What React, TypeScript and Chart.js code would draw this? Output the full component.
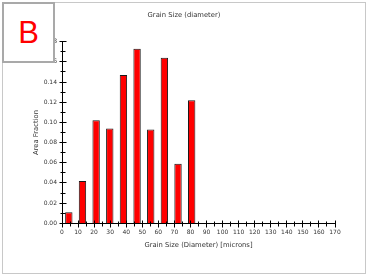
import { useEffect, useRef } from "react";
import { Chart, registerables } from "chart.js";

Chart.register(...registerables);

// ---- data ----
const binCenters = [4.25, 12.75, 21.25, 29.75, 38.25, 46.75, 55.25, 63.75, 72.25, 80.75];
const areaFraction = [0.011, 0.042, 0.102, 0.094, 0.147, 0.173, 0.093, 0.164, 0.059, 0.122];
const xAxisMin = 0;
const xAxisMax = 170;
const xMajorStep = 10;
const xMinorStep = 5;
const yAxisMin = 0;
const yAxisMax = 0.18;
const yMajorStep = 0.02;
const yMinorStep = 0.01;
const chartTitle = "Grain Size (diameter)";
const xTitle = "Grain Size (Diameter) [microns]";
const yTitle = "Area Fraction";
const panelLabel = "B";

const FONT = "'DejaVu Sans', 'Liberation Sans', sans-serif";
const TEXT = "#333333";

const crossTicks = {
  id: "crossTicks",
  afterDraw(chart: any) {
    const { ctx, scales } = chart;
    const x = scales.x;
    const y = scales.y;
    const al = (p: number) => Math.round(p - 0.5) + 0.5;
    ctx.save();
    ctx.strokeStyle = "#000000";
    ctx.lineWidth = 1;
    const ax = al(x.left);
    const ay = al(y.bottom);
    const ny = Math.round((yAxisMax - yAxisMin) / yMinorStep);
    const yRatio = Math.round(yMajorStep / yMinorStep);
    for (let i = 0; i <= ny; i++) {
      const v = yAxisMin + i * yMinorStep;
      const py = al(y.getPixelForValue(v));
      const half = i % yRatio === 0 ? 3 : 2;
      ctx.beginPath();
      ctx.moveTo(ax - half, py);
      ctx.lineTo(ax + half + 1, py);
      ctx.stroke();
    }
    const nx = Math.round((xAxisMax - xAxisMin) / xMinorStep);
    const xRatio = Math.round(xMajorStep / xMinorStep);
    for (let i = 0; i <= nx; i++) {
      const v = xAxisMin + i * xMinorStep;
      const px = al(x.getPixelForValue(v));
      const half = i % xRatio === 0 ? 3 : 2;
      ctx.beginPath();
      ctx.moveTo(px, ay - half);
      ctx.lineTo(px, ay + half + 1);
      ctx.stroke();
    }
    ctx.restore();
  },
};

export default function App() {
  const ref = useRef<HTMLCanvasElement | null>(null);

  useEffect(() => {
    if (!ref.current) return;
    const chart = new Chart(ref.current, {
      type: "bar",
      data: {
        datasets: [
          {
            label: yTitle,
            data: binCenters.map((c, i) => ({ x: c, y: areaFraction[i] })),
            backgroundColor: "#ff0000",
            borderColor: "#1a1a1a",
            borderWidth: 1,
            inflateAmount: 0,
            barPercentage: 0.54,
            categoryPercentage: 1,
            yAxisID: "y",
            xAxisID: "x",
          },
        ],
      },
      options: {
        animation: false,
        responsive: false,
        maintainAspectRatio: false,
        devicePixelRatio: 1,
        layout: { padding: 0 },
        plugins: {
          legend: { display: false },
          tooltip: { enabled: false },
          title: {
            display: true,
            text: chartTitle,
            color: TEXT,
            font: { family: FONT, size: 6.8, weight: "normal" },
            padding: { top: 11.5, bottom: 22 },
          },
        },
        scales: {
          x: {
            type: "linear",
            min: xAxisMin,
            max: xAxisMax,
            offset: false,
            grid: { display: false, drawTicks: false, tickLength: 0 },
            border: { display: true, color: "#000000", width: 1 },
            ticks: {
              stepSize: xMajorStep,
              padding: 6,
              color: TEXT,
              font: { family: FONT, size: 6 },
              maxRotation: 0,
              autoSkip: false,
              callback: (v: any) => String(v),
            },
            title: {
              display: true,
              text: xTitle,
              color: TEXT,
              font: { family: FONT, size: 6.8 },
              padding: { top: 0, bottom: 26.4 },
            },
            afterFit: (s: any) => {
              s.height = 52.7;
            },
          },
          y: {
            type: "linear",
            position: "left",
            min: yAxisMin,
            max: yAxisMax,
            grid: { display: false, drawTicks: false, tickLength: 0 },
            border: { display: true, color: "#000000", width: 1 },
            ticks: {
              stepSize: yMajorStep,
              padding: 5,
              color: TEXT,
              font: { family: FONT, size: 6 },
              callback: (v: any) => Number(v).toFixed(2),
            },
            title: {
              display: true,
              text: yTitle,
              color: TEXT,
              font: { family: FONT, size: 6.8 },
              padding: { top: 32.4, bottom: 0 },
            },
            afterFit: (s: any) => {
              s.width = 62;
            },
          },
          yRight: {
            type: "linear",
            position: "right",
            display: true,
            grid: { display: false, drawTicks: false },
            border: { display: false },
            ticks: { display: false },
            afterFit: (s: any) => {
              s.width = 33;
            },
          },
        },
      } as any,
      plugins: [crossTicks],
    });
    return () => chart.destroy();
  }, []);

  return (
    <div
      style={{
        position: "fixed",
        left: 0,
        top: 0,
        width: 368,
        height: 276,
        background: "#ffffff",
      }}
    >
      <canvas ref={ref} width={368} height={276} style={{ position: "absolute", left: 0, top: 0, width: 368, height: 276 }} />
      <div
        style={{
          position: "absolute",
          left: 2,
          top: 2,
          width: 364,
          height: 272,
          boxSizing: "border-box",
          border: "1px solid #c8c8c8",
          pointerEvents: "none",
        }}
      />
      <div
        style={{
          position: "absolute",
          left: 2,
          top: 2,
          width: 53,
          height: 61,
          boxSizing: "border-box",
          border: "2px solid #a9a9a9",
          background: "#ffffff",
          display: "flex",
          alignItems: "center",
          justifyContent: "center",
          color: "#ff0000",
          fontFamily: "'Liberation Sans', Arial, sans-serif",
          fontSize: 31,
          lineHeight: 1,
        }}
      >
        {panelLabel}
      </div>
    </div>
  );
}
